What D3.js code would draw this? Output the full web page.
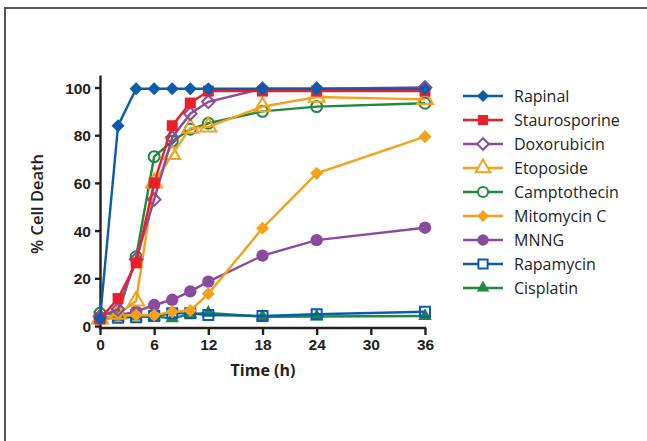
<!DOCTYPE html>
<html>
<head>
<meta charset="utf-8">
<script src="https://cdn.jsdelivr.net/npm/d3@7"></script>
<style>
  html, body { margin: 0; padding: 0; background: #fff; }
  svg { display: block; font-family: "Open Sans", "Liberation Sans", sans-serif; }
  .axis path, .axis line { stroke: #231f20; stroke-width: 2.4; }
  .axis text { font-size: 15.5px; font-weight: 700; fill: #231f20; }
  .legend text { font-size: 16px; font-weight: 500; fill: #231f20; }
</style>
</head>
<body>
<div id="chart"></div>
<script>
// Cell death time course
const times = [0, 2, 4, 6, 8, 10, 12, 18, 24, 36];

const rapinal       = [3, 84, 99.5, 99.5, 99.5, 99.5, 99.5, 99.5, 99.5, 99.5];
const staurosporine = [3, 11.5, 26.5, 60, 84, 93.5, 98.5, 98.5, 98.5, 98.5];
const doxorubicin   = [4, 7, 28, 53, 79, 89, 94, 99.5, 99.5, 100];
const etoposide     = [3, 5, 10.5, 60, 72, 83, 83.5, 92, 96, 95];
const camptothecin  = [5.3, 5, 29, 71, 77.5, 82.5, 85, 90, 92, 93.4];
const mitomycinC    = [3.2, 4.2, 4.6, 4.5, 6, 6.5, 13.5, 41, 64, 79.4];
const mnng          = [3, 4.5, 6, 8.8, 11, 14.5, 18.6, 29.5, 36, 41.2];
const rapamycin     = [3.2, 3.5, 3.7, 4.2, 5.3, 5.3, 4.6, 4.2, 4.9, 6];
const cisplatin     = [3, 3.5, 4, 4, 3.2, 5, 5.5, 3.9, 4, 4.2];

const xTicks = [0, 6, 12, 18, 24, 30, 36];
const yTicks = [0, 20, 40, 60, 80, 100];

const BLUE = "#0b5cad", RED = "#e8202a", PURPLE = "#8a4b9e", ORANGE = "#f5a11c", GREEN = "#1e8a3f";

// losange = carré tourné de 45°
const symbolRhombus = {
  draw(ctx, size) {
    const r = Math.sqrt(size / 2);
    ctx.moveTo(0, -r); ctx.lineTo(r, 0); ctx.lineTo(0, r); ctx.lineTo(-r, 0); ctx.closePath();
  }
};

const series = [
  { name: "Rapinal",       values: rapinal,       color: BLUE,   shape: symbolRhombus,    open: false, size: 85 },
  { name: "Staurosporine", values: staurosporine, color: RED,    shape: d3.symbolSquare,   open: false, size: 120 },
  { name: "Doxorubicin",   values: doxorubicin,   color: PURPLE, shape: symbolRhombus,    open: true,  size: 80 },
  { name: "Etoposide",     values: etoposide,     color: ORANGE, shape: d3.symbolTriangle, open: true,  size: 110 },
  { name: "Camptothecin",  values: camptothecin,  color: GREEN,  shape: d3.symbolCircle,   open: true,  size: 95 },
  { name: "Mitomycin C",   values: mitomycinC,    color: ORANGE, shape: symbolRhombus,    open: false, size: 85 },
  { name: "MNNG",          values: mnng,          color: PURPLE, shape: d3.symbolCircle,   open: false, size: 120 },
  { name: "Rapamycin",     values: rapamycin,     color: BLUE,   shape: d3.symbolSquare,   open: true,  size: 100 },
  { name: "Cisplatin",     values: cisplatin,     color: GREEN,  shape: d3.symbolTriangle, open: false, size: 80 },
];

const width = 647, height = 441;

const svg = d3.select("#chart").append("svg")
  .attr("width", width).attr("height", height);

// cadre (haut + gauche seulement visibles)
svg.append("path")
  .attr("d", `M5,${height} V8 H${width}`)
  .attr("fill", "none")
  .attr("stroke", "#555")
  .attr("stroke-width", 2);

const x = d3.scaleLinear().domain([0, 36]).range([100, 425]);
const y = d3.scaleLinear().domain([0, 100]).range([326, 87.5]);

// axe Y prolongé un peu au-dessus de 100
const yAxisScale = d3.scaleLinear().domain([y.invert(328), y.invert(75)]).range([328, 75]);

svg.append("g")
  .attr("class", "axis")
  .attr("transform", "translate(100,0)")
  .call(d3.axisLeft(yAxisScale).tickValues(yTicks).tickSize(5).tickSizeOuter(0).tickPadding(4))
  .call(g => g.selectAll(".tick text").attr("dy", "0.36em"));

svg.append("g")
  .attr("class", "axis")
  .attr("transform", "translate(0,328)")
  .call(d3.axisBottom(x).tickValues(xTicks).tickSize(7).tickSizeOuter(0).tickPadding(4))
  .call(g => g.select(".domain").attr("d", "M98.8,0H426.2"));

// titres
svg.append("text")
  .attr("transform", "translate(43,204) rotate(-90)")
  .attr("text-anchor", "middle")
  .style("font-size", "16.5px").style("font-weight", 600).attr("fill", "#231f20")
  .text("% Cell Death");

svg.append("text")
  .attr("x", 263).attr("y", 376)
  .attr("text-anchor", "middle")
  .style("font-size", "16px").style("font-weight", 700).attr("fill", "#231f20")
  .text("Time (h)");

const line = d3.line()
  .x((v, i) => x(times[i]))
  .y(v => y(v));

// ordre inverse : la première série est dessinée au-dessus
const plot = svg.append("g");
series.slice().reverse().forEach(s => {
  const g = plot.append("g");
  g.append("path")
    .attr("d", line(s.values))
    .attr("fill", "none")
    .attr("stroke", s.color)
    .attr("stroke-width", 2.4);
  g.selectAll("path.mk")
    .data(s.values)
    .join("path")
      .attr("class", "mk")
      .attr("transform", (v, i) => `translate(${x(times[i])},${y(v)})`)
      .attr("d", d3.symbol(s.shape, s.size))
      .attr("fill", s.open ? "none" : s.color)
      .attr("stroke", s.color)
      .attr("stroke-width", s.open ? 2 : 0);
});

// légende
const legend = svg.append("g").attr("class", "legend");
const rows = legend.selectAll("g")
  .data(series)
  .join("g")
    .attr("transform", (d, i) => `translate(463,${96 + i * 24})`);

rows.append("line")
  .attr("x1", 0).attr("x2", 40)
  .attr("stroke", d => d.color)
  .attr("stroke-width", 2.4);
rows.append("path")
  .attr("transform", "translate(20,0)")
  .attr("d", d => d3.symbol(d.shape, d.size * 0.85)())
  .attr("fill", d => d.open ? "#fff" : d.color)
  .attr("stroke", d => d.color)
  .attr("stroke-width", d => d.open ? 2 : 0);
rows.append("text")
  .attr("x", 51)
  .attr("dy", "0.36em")
  .text(d => d.name);
</script>
</body>
</html>
